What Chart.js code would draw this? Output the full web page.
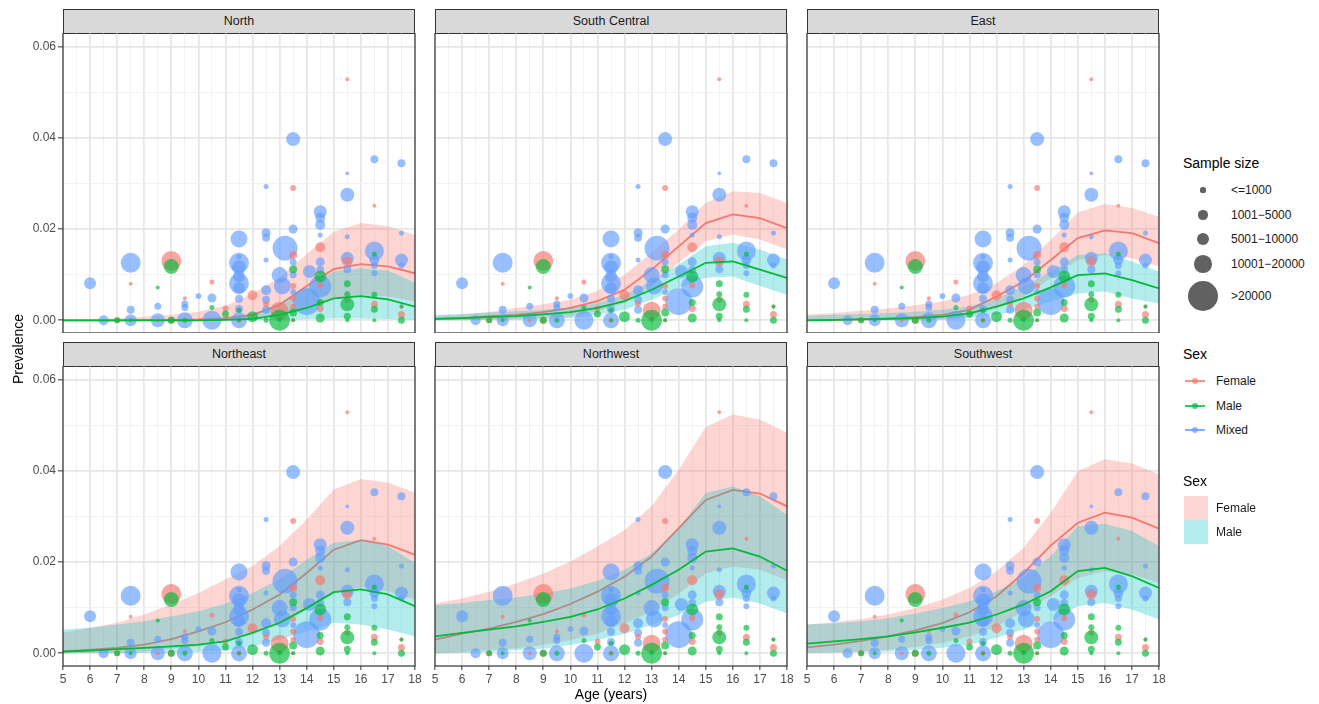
<!DOCTYPE html>
<html>
<head>
<meta charset="utf-8">
<script src="https://cdn.jsdelivr.net/npm/chart.js@4.4.1/dist/chart.umd.min.js"></script>
<style>
  html, body { margin: 0; padding: 0; background: #fff; }
  body { width: 1319px; height: 704px; position: relative; overflow: hidden;
         font-family: "Liberation Sans", Arial, sans-serif; color: #1a1a1a; }
  .strip { position: absolute; height: 25px; background: #d9d9d9; border: 1px solid #333;
           box-sizing: border-box; text-align: center; font-size: 12.5px; line-height: 23px; color: #1a1a1a; }
  .wrap { position: absolute; }
  .axis-title { position: absolute; font-size: 14px; color: #000; white-space: nowrap; }
  .lg-title { position: absolute; font-size: 14px; color: #000; }
  .lg-text { position: absolute; font-size: 12px; color: #1a1a1a; line-height: 14px; }
  .lg-dot { position: absolute; border-radius: 50%; background: rgba(0,0,0,0.62); }
  .lg-line { position: absolute; height: 2px; }
  .lg-pt { position: absolute; width: 6px; height: 6px; border-radius: 50%; }
  .lg-fill { position: absolute; width: 24px; height: 24px; }
</style>
</head>
<body>
<script>
// ---- x ticks / categories ----
const ages = [5, 6, 7, 8, 9, 10, 11, 12, 13, 14, 15, 16, 17, 18];
const yTickValues = [0, 0.01, 0.02, 0.03, 0.04, 0.05, 0.06];
const yTickLabels = ['0.00', '', '0.02', '', '0.04', '', '0.06'];
const regions = ['North', 'South Central', 'East', 'Northeast', 'Northwest', 'Southwest'];

// ---- observed study prevalences (shared by every panel) ----
const femaleAge  = [7, 7.5, 8.5, 9, 9, 9.5, 10.5, 11, 11.5, 12, 12.5, 13, 13.5, 13.5, 13.5, 13.5, 13.5, 13.5, 14.5, 14.5, 14.5, 15.5, 15.5, 15.5, 16.5, 16.5, 17.5, 17.5];
const femalePrev = [0, 0.0080, 0, 0.0130, 0, 0.0048, 0.0084, 0.0026, 0, 0.0055, 0.0036, 0.0021, 0.0290, 0.0143, 0.0075, 0.0048, 0.0030, 0, 0.0160, 0.0077, 0.0026, 0.0528, 0.0129, 0.0045, 0.0251, 0.0035, 0.0030, 0.0013];
const femaleN    = [1600, 300, 200, 26000, 2500, 300, 900, 1600, 900, 6000, 1600, 21000, 1600, 3500, 1600, 1600, 1600, 300, 6000, 1600, 2500, 300, 6000, 1600, 300, 2500, 300, 2500];

const maleAge  = [7, 7.5, 8.5, 9, 9, 9.5, 10.5, 11, 11.5, 11.5, 12, 12.5, 13, 13, 13.5, 13.5, 13.5, 14.5, 14.5, 14.5, 15.5, 15.5, 15.5, 15.5, 15.5, 16.5, 16.5, 16.5, 16.5, 17.5, 17.5];
const malePrev = [0, 0, 0.0072, 0.0118, 0, 0, 0.0028, 0.0014, 0, 0.0022, 0.0008, 0, 0, 0.0002, 0.0112, 0.0017, 0, 0.0096, 0.0039, 0.0005, 0.0080, 0.0057, 0.0035, 0.0009, 0, 0.0145, 0.0056, 0.0024, 0, 0.0030, 0];
const maleN    = [1600, 300, 300, 14400, 2500, 900, 900, 2500, 300, 900, 7400, 900, 29000, 900, 3500, 3500, 300, 8900, 2500, 4700, 2500, 1600, 12400, 2500, 300, 900, 1600, 2500, 300, 300, 2500];

const mixedAge  = [6, 6.5, 7.5, 7.5, 7.5, 8.5, 8.5, 9.5, 9.5, 9.5, 10, 10.5, 10.5,
                   11.5, 11.5, 11.5, 11.5, 11.5, 11.5, 11.5, 11.5, 11.5, 11.5,
                   12.5, 12.5, 12.5, 12.5, 12.5, 12.5, 12.5,
                   13.2, 13, 13.1, 13.5, 13.5, 13.5, 13.5, 13.5,
                   14, 14.1, 14.5, 14.5, 14.5, 14.5, 14.5, 14.5, 14.5,
                   15.5, 15.5, 15.5, 15.5, 15.5,
                   16.5, 16.5, 16.5, 16.5, 16.5,
                   17.5, 17.5, 17.5, 17.5];
const mixedPrev = [0.0081, 0, 0.0126, 0.0023, 0, 0.0031, 0, 0.0036, 0.0028, 0, 0.0053, 0.0049, 0,
                   0.0178, 0.0139, 0.0126, 0.0116, 0.0096, 0.0081, 0.0070, 0.0047, 0.0025, 0,
                   0.0293, 0.0192, 0.0181, 0.0132, 0.0066, 0.0045, 0.0023,
                   0.0158, 0.0099, 0.0075, 0.0397, 0.0200, 0.0128, 0.0100, 0.0062,
                   0.0041, 0.0107, 0.0074, 0.0238, 0.0225, 0.0209, 0.0187, 0.0128, 0.0110,
                   0.0322, 0.0275, 0.0183, 0.0136, 0.0112,
                   0.0353, 0.0152, 0.0132, 0.0120, 0.0103,
                   0.0344, 0.0191, 0.0132, 0.0120];
const mixedN    = [8900, 6000, 26000, 3500, 8900, 2500, 12400, 2500, 2500, 16500, 1600, 4700, 23600,
                   18700, 900, 26000, 12400, 8900, 26000, 8900, 3500, 3500, 16500,
                   900, 4700, 3500, 900, 6000, 3500, 3500,
                   41000, 16500, 18700, 12400, 4700, 2500, 2500, 1600,
                   48000, 10600, 32000, 10600, 6000, 6000, 900, 4700, 3500,
                   100, 12400, 900, 10600, 3500,
                   3500, 23600, 6000, 2500, 1600,
                   3500, 900, 10600, 1600];

// ---- fitted prevalence by region: estimate, lower and upper bounds ----
const northFemale   = [0, 0, 0, 0.0001, 0.0001, 0.0002, 0.0005, 0.0012, 0.0034, 0.0075, 0.0112, 0.0123, 0.0118, 0.0103];
const northFemaleLo = [0, 0, 0, 0, 0, 0, 0.0001, 0.0003, 0.0010, 0.0026, 0.0050, 0.0055, 0.0052, 0.0042];
const northFemaleHi = [0.0001, 0.0002, 0.0004, 0.0008, 0.0012, 0.0019, 0.0032, 0.0058, 0.0094, 0.0145, 0.0194, 0.0213, 0.0206, 0.0187];
const northMale     = [0, 0, 0, 0, 0, 0, 0.0001, 0.0003, 0.0012, 0.0027, 0.0048, 0.0053, 0.0046, 0.0030];
const northMaleLo   = [0, 0, 0, 0, 0, 0, 0, 0, 0.0001, 0.0003, 0.0004, 0.0004, 0.0003, 0.0001];
const northMaleHi   = [0.0001, 0.0001, 0.0001, 0.0001, 0.0002, 0.0002, 0.0005, 0.0012, 0.0037, 0.0072, 0.0107, 0.0114, 0.0109, 0.0083];

const southCentralFemale   = [0.0003, 0.0005, 0.0009, 0.0012, 0.0018, 0.0027, 0.0042, 0.0067, 0.0111, 0.0162, 0.0213, 0.0232, 0.0224, 0.0202];
const southCentralFemaleLo = [0, 0, 0.0001, 0.0003, 0.0005, 0.0009, 0.0020, 0.0038, 0.0075, 0.0126, 0.0173, 0.0188, 0.0177, 0.0155];
const southCentralFemaleHi = [0.0009, 0.0013, 0.0018, 0.0027, 0.0035, 0.0045, 0.0064, 0.0100, 0.0148, 0.0199, 0.0257, 0.0283, 0.0279, 0.0257];
const southCentralMale     = [0.0003, 0.0005, 0.0007, 0.0009, 0.0013, 0.0018, 0.0027, 0.0042, 0.0067, 0.0096, 0.0126, 0.0129, 0.0111, 0.0093];
const southCentralMaleLo   = [0, 0, 0.0001, 0.0002, 0.0003, 0.0005, 0.0012, 0.0023, 0.0045, 0.0071, 0.0093, 0.0096, 0.0075, 0.0056];
const southCentralMaleHi   = [0.0012, 0.0014, 0.0017, 0.0020, 0.0023, 0.0027, 0.0038, 0.0056, 0.0086, 0.0122, 0.0162, 0.0170, 0.0155, 0.0133];

const eastFemale   = [0, 0.0001, 0.0002, 0.0004, 0.0007, 0.0012, 0.0023, 0.0052, 0.0085, 0.0132, 0.0180, 0.0197, 0.0191, 0.0169];
const eastFemaleLo = [0, 0, 0, 0, 0.0001, 0.0002, 0.0008, 0.0026, 0.0052, 0.0092, 0.0132, 0.0143, 0.0136, 0.0118];
const eastFemaleHi = [0.0012, 0.0016, 0.0021, 0.0026, 0.0033, 0.0041, 0.0056, 0.0081, 0.0121, 0.0176, 0.0236, 0.0255, 0.0246, 0.0227];
const eastMale     = [0, 0.0001, 0.0002, 0.0003, 0.0005, 0.0008, 0.0015, 0.0030, 0.0048, 0.0072, 0.0099, 0.0103, 0.0088, 0.0070];
const eastMaleLo   = [0, 0, 0, 0, 0.0001, 0.0002, 0.0005, 0.0012, 0.0023, 0.0041, 0.0059, 0.0063, 0.0048, 0.0037];
const eastMaleHi   = [0.0010, 0.0012, 0.0014, 0.0016, 0.0019, 0.0023, 0.0031, 0.0048, 0.0074, 0.0107, 0.0143, 0.0147, 0.0129, 0.0107];

const northeastFemale   = [0.0004, 0.0008, 0.0012, 0.0019, 0.0031, 0.0048, 0.0068, 0.0096, 0.0129, 0.0176, 0.0227, 0.0248, 0.0238, 0.0216];
const northeastFemaleLo = [0, 0.0001, 0.0002, 0.0004, 0.0010, 0.0015, 0.0026, 0.0041, 0.0063, 0.0096, 0.0132, 0.0145, 0.0136, 0.0118];
const northeastFemaleHi = [0.0045, 0.0056, 0.0067, 0.0085, 0.0107, 0.0132, 0.0162, 0.0191, 0.0235, 0.0293, 0.0359, 0.0382, 0.0374, 0.0352];
const northeastMale     = [0.0004, 0.0006, 0.0009, 0.0012, 0.0015, 0.0019, 0.0026, 0.0045, 0.0067, 0.0099, 0.0134, 0.0140, 0.0129, 0.0103];
const northeastMaleLo   = [0, 0, 0, 0.0001, 0.0002, 0.0003, 0.0006, 0.0015, 0.0030, 0.0048, 0.0067, 0.0063, 0.0052, 0.0037];
const northeastMaleHi   = [0.0052, 0.0056, 0.0063, 0.0070, 0.0081, 0.0092, 0.0109, 0.0132, 0.0162, 0.0205, 0.0242, 0.0249, 0.0235, 0.0198];

const northwestFemale   = [0.0030, 0.0043, 0.0054, 0.0069, 0.0086, 0.0108, 0.0135, 0.0168, 0.0212, 0.0274, 0.0336, 0.0358, 0.0350, 0.0322];
const northwestFemaleLo = [0, 0.0003, 0.0007, 0.0011, 0.0018, 0.0029, 0.0043, 0.0065, 0.0091, 0.0131, 0.0175, 0.0190, 0.0183, 0.0160];
const northwestFemaleHi = [0.0109, 0.0120, 0.0135, 0.0153, 0.0175, 0.0201, 0.0234, 0.0270, 0.0322, 0.0402, 0.0496, 0.0523, 0.0512, 0.0483];
const northwestMale     = [0.0037, 0.0045, 0.0052, 0.0059, 0.0069, 0.0080, 0.0096, 0.0120, 0.0150, 0.0183, 0.0223, 0.0230, 0.0212, 0.0181];
const northwestMaleLo   = [0, 0.0001, 0.0003, 0.0007, 0.0010, 0.0018, 0.0029, 0.0043, 0.0062, 0.0084, 0.0113, 0.0122, 0.0109, 0.0087];
const northwestMaleHi   = [0.0106, 0.0110, 0.0117, 0.0122, 0.0131, 0.0142, 0.0159, 0.0183, 0.0219, 0.0274, 0.0351, 0.0366, 0.0344, 0.0303];

const southwestFemale   = [0.0013, 0.0019, 0.0027, 0.0037, 0.0050, 0.0066, 0.0090, 0.0125, 0.0176, 0.0236, 0.0286, 0.0308, 0.0297, 0.0273];
const southwestFemaleLo = [0.0001, 0.0002, 0.0004, 0.0008, 0.0014, 0.0023, 0.0037, 0.0059, 0.0092, 0.0125, 0.0165, 0.0180, 0.0173, 0.0154];
const southwestFemaleHi = [0.0063, 0.0068, 0.0075, 0.0085, 0.0099, 0.0118, 0.0143, 0.0180, 0.0231, 0.0308, 0.0399, 0.0425, 0.0416, 0.0392];
const southwestMale     = [0.0021, 0.0026, 0.0031, 0.0037, 0.0046, 0.0056, 0.0067, 0.0085, 0.0107, 0.0136, 0.0180, 0.0187, 0.0169, 0.0143];
const southwestMaleLo   = [0.0001, 0.0002, 0.0003, 0.0004, 0.0008, 0.0012, 0.0019, 0.0034, 0.0052, 0.0070, 0.0103, 0.0110, 0.0096, 0.0074];
const southwestMaleHi   = [0.0063, 0.0066, 0.0070, 0.0077, 0.0087, 0.0099, 0.0114, 0.0136, 0.0165, 0.0213, 0.0279, 0.0284, 0.0268, 0.0235];

// legend bins for sample size
const sizeLabels = ['<=1000', '1001\u22125000', '5001\u221210000', '10001\u221220000', '>20000'];
const sizeKeyN = [1000, 5000, 10000, 20000, 60000];

// ---- styling ----
const COL = {
  female: '#F8766D', male: '#00BA38', mixed: '#619CFF',
  femalePt: 'rgba(248,118,109,0.65)', malePt: 'rgba(0,186,56,0.65)', mixedPt: 'rgba(97,156,255,0.65)',
  femaleFill: 'rgba(248,118,109,0.3)', maleFill: 'rgba(0,191,196,0.3)'
};
const FONT = '"Liberation Sans", Arial, sans-serif';
const PANEL_W = 352, PANEL_H = 300;
const colLeft = [63, 435, 807];
const rowTop = [33, 366];
const Y_MIN = -0.00278, Y_MAX = 0.06294;

function radiusFor(n) { return Math.sqrt(3 + 0.0037 * n); }
function xy(xs, ys) { return xs.map((x, i) => ({ x: x, y: ys[i] })); }

const fits = {
  'North':         [northFemale, northFemaleLo, northFemaleHi, northMale, northMaleLo, northMaleHi],
  'South Central': [southCentralFemale, southCentralFemaleLo, southCentralFemaleHi, southCentralMale, southCentralMaleLo, southCentralMaleHi],
  'East':          [eastFemale, eastFemaleLo, eastFemaleHi, eastMale, eastMaleLo, eastMaleHi],
  'Northeast':     [northeastFemale, northeastFemaleLo, northeastFemaleHi, northeastMale, northeastMaleLo, northeastMaleHi],
  'Northwest':     [northwestFemale, northwestFemaleLo, northwestFemaleHi, northwestMale, northwestMaleLo, northwestMaleHi],
  'Southwest':     [southwestFemale, southwestFemaleLo, southwestFemaleHi, southwestMale, southwestMaleLo, southwestMaleHi]
};

const xMinor = ages.slice(0, -1).map(a => a + 0.5);
const xTickValues = ages.concat(xMinor).sort((a, b) => a - b);

const panelBorder = {
  id: 'panelBorder',
  afterDraw(chart) {
    const a = chart.chartArea, ctx = chart.ctx;
    ctx.save();
    ctx.strokeStyle = '#333333';
    ctx.lineWidth = 1.2;
    ctx.strokeRect(a.left, a.top, a.right - a.left, a.bottom - a.top);
    ctx.restore();
  }
};

function isMajorY(v) { return Math.round(v * 100) % 2 === 0; }
function isMajorX(v) { return Math.abs(v - Math.round(v)) < 1e-9; }

function scatterSet(label, xs, ys, ns, color, order) {
  return {
    type: 'scatter', label: label, data: xy(xs, ys), order: order,
    backgroundColor: color, borderWidth: 0,
    pointRadius: ctx => radiusFor(ns[ctx.dataIndex]), pointHoverRadius: ctx => radiusFor(ns[ctx.dataIndex])
  };
}
function bandSets(lo, hi, fillColor, order) {
  return [
    { type: 'line', data: xy(ages, lo), borderWidth: 0, pointRadius: 0, fill: false, order: order, tension: 0 },
    { type: 'line', data: xy(ages, hi), borderWidth: 0, pointRadius: 0, fill: '-1', backgroundColor: fillColor, order: order, tension: 0 }
  ];
}
function lineSet(vals, color, order) {
  return { type: 'line', data: xy(ages, vals), borderColor: color, borderWidth: 1.8, pointRadius: 0, fill: false, order: order, tension: 0 };
}

regions.forEach((name, idx) => {
  const col = idx % 3, row = Math.floor(idx / 3);
  const leftW = col === 0 ? 63 : 0;
  const padL = col === 0 ? 0 : 10;
  const bottomH = row === 1 ? 30 : 0;
  const padR = 12;

  const strip = document.createElement('div');
  strip.className = 'strip';
  strip.style.left = colLeft[col] + 'px';
  strip.style.top = (rowTop[row] - 24) + 'px';
  strip.style.width = PANEL_W + 'px';
  strip.textContent = name;
  document.body.appendChild(strip);

  const wrap = document.createElement('div');
  wrap.className = 'wrap';
  wrap.style.left = (colLeft[col] - leftW - padL) + 'px';
  wrap.style.top = rowTop[row] + 'px';
  wrap.style.width = (padL + leftW + PANEL_W + padR) + 'px';
  wrap.style.height = (PANEL_H + bottomH) + 'px';
  const canvas = document.createElement('canvas');
  wrap.appendChild(canvas);
  document.body.appendChild(wrap);

  const f = fits[name];
  const datasets = [
    ...bandSets(f[1], f[2], COL.femaleFill, 10),
    lineSet(f[0], COL.female, 9),
    ...bandSets(f[4], f[5], COL.maleFill, 8),
    scatterSet('Mixed', mixedAge, mixedPrev, mixedN, COL.mixedPt, 7),
    scatterSet('Female', femaleAge, femalePrev, femaleN, COL.femalePt, 6),
    scatterSet('Male', maleAge, malePrev, maleN, COL.malePt, 5),
    lineSet(f[3], COL.male, 4)
  ];

  new Chart(canvas, {
    type: 'scatter',
    data: { datasets: datasets },
    plugins: [panelBorder],
    options: {
      responsive: true, maintainAspectRatio: false, animation: false,
      events: [],
      layout: { autoPadding: false, padding: { left: padL, right: padR, top: 0, bottom: 0 } },
      plugins: { legend: { display: false }, tooltip: { enabled: false } },
      scales: {
        x: {
          type: 'linear', min: 5, max: 18,
          afterBuildTicks: s => { s.ticks = xTickValues.map(v => ({ value: v })); },
          afterFit: s => { s.height = bottomH; s.paddingLeft = 0; s.paddingRight = 0; },
          border: { display: false },
          grid: {
            color: c => isMajorX(c.tick.value) ? '#E6E6E6' : '#F1F1F1',
            lineWidth: c => isMajorX(c.tick.value) ? 1.7 : 0.9,
            drawTicks: row === 1, tickLength: 4,
            tickColor: c => isMajorX(c.tick.value) ? '#333333' : 'rgba(0,0,0,0)', tickWidth: 1
          },
          ticks: {
            display: row === 1, autoSkip: false, maxRotation: 0, minRotation: 0, padding: 2,
            color: '#4D4D4D', font: { family: FONT, size: 12 },
            callback: v => isMajorX(v) ? String(v) : ''
          }
        },
        y: {
          type: 'linear', min: Y_MIN, max: Y_MAX,
          afterBuildTicks: s => { s.ticks = yTickValues.map(v => ({ value: v })); },
          afterFit: s => { s.width = leftW; s.paddingTop = 0; s.paddingBottom = 0; },
          border: { display: false },
          grid: {
            color: c => isMajorY(c.tick.value) ? '#E6E6E6' : '#F1F1F1',
            lineWidth: c => isMajorY(c.tick.value) ? 1.7 : 0.9,
            drawTicks: col === 0, tickLength: 5,
            tickColor: c => isMajorY(c.tick.value) ? '#333333' : 'rgba(0,0,0,0)', tickWidth: 1
          },
          ticks: {
            display: col === 0, autoSkip: false, padding: 2,
            color: '#4D4D4D', font: { family: FONT, size: 12 },
            callback: (v, i) => yTickLabels[i]
          }
        }
      }
    }
  });
});

// ---- axis titles ----
function addText(cls, text, left, top, extra) {
  const d = document.createElement('div');
  d.className = cls; d.textContent = text;
  d.style.left = left + 'px'; d.style.top = top + 'px';
  if (extra) Object.assign(d.style, extra);
  document.body.appendChild(d);
  return d;
}
addText('axis-title', 'Age (years)', 611, 686, { transform: 'translateX(-50%)' });
addText('axis-title', 'Prevalence', 18, 349, { transform: 'translate(-50%,-50%) rotate(-90deg)' });

// ---- legends ----
addText('lg-title', 'Sample size', 1183, 155);
const sizeKeyY = [190, 215, 239, 264, 296];
sizeLabels.forEach((lab, i) => {
  const r = radiusFor(sizeKeyN[i]);
  const d = document.createElement('div');
  d.className = 'lg-dot';
  d.style.width = d.style.height = (2 * r) + 'px';
  d.style.left = (1203 - r) + 'px';
  d.style.top = (sizeKeyY[i] - r) + 'px';
  document.body.appendChild(d);
  addText('lg-text', lab, 1231, sizeKeyY[i] - 7);
});

addText('lg-title', 'Sex', 1183, 346);
const sexNames = ['Female', 'Male', 'Mixed'];
const sexColors = [COL.female, COL.male, COL.mixed];
const sexKeyY = [381, 406, 430];
sexNames.forEach((s, i) => {
  const l = document.createElement('div');
  l.className = 'lg-line';
  l.style.left = '1185px'; l.style.width = '20px';
  l.style.top = (sexKeyY[i] - 1) + 'px';
  l.style.background = sexColors[i]; l.style.opacity = '0.8';
  document.body.appendChild(l);
  const p = document.createElement('div');
  p.className = 'lg-pt';
  p.style.left = '1192px'; p.style.top = (sexKeyY[i] - 3) + 'px';
  p.style.background = sexColors[i]; p.style.opacity = '0.7';
  document.body.appendChild(p);
  addText('lg-text', s, 1216, sexKeyY[i] - 7);
});

addText('lg-title', 'Sex', 1183, 473);
const fillNames = ['Female', 'Male'];
const fillColors = [COL.femaleFill, COL.maleFill];
fillNames.forEach((s, i) => {
  const b = document.createElement('div');
  b.className = 'lg-fill';
  b.style.left = '1184px'; b.style.top = (496 + 24 * i) + 'px';
  b.style.background = fillColors[i];
  document.body.appendChild(b);
  addText('lg-text', s, 1216, 501 + 24 * i);
});
</script>
</body>
</html>
